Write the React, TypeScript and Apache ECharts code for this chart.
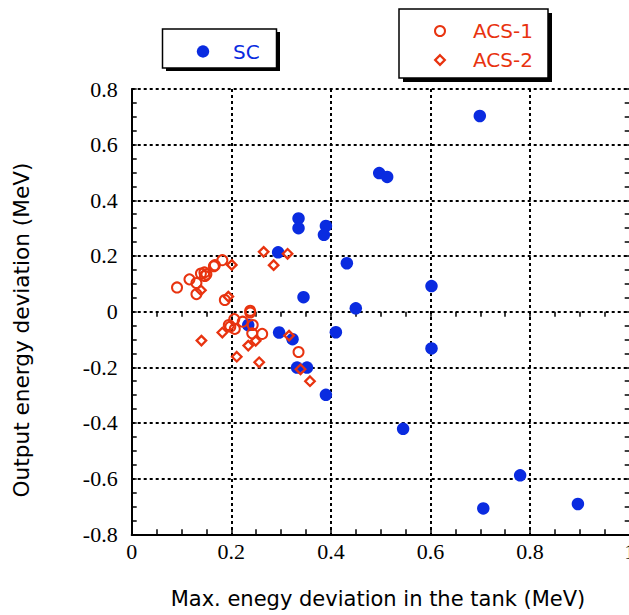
import React, { useEffect, useRef } from "react";
import * as echarts from "echarts";

const xTicks = [0, 0.2, 0.4, 0.6, 0.8, 1];
const yTicks = [-0.8, -0.6, -0.4, -0.2, 0, 0.2, 0.4, 0.6, 0.8];

const seriesNames = ["SC", "ACS-1", "ACS-2"];
const xTitle = "Max. enegy deviation in the tank (MeV)";
const yTitle = "Output energy deviation (MeV)";

const scData: number[][] = [
  [0.699, 0.703],
  [0.497, 0.498],
  [0.513, 0.484],
  [0.335, 0.335],
  [0.335, 0.3],
  [0.39, 0.308],
  [0.386, 0.276],
  [0.294, 0.213],
  [0.432, 0.174],
  [0.602, 0.092],
  [0.345, 0.052],
  [0.45, 0.012],
  [0.41, -0.074],
  [0.296, -0.075],
  [0.323, -0.099],
  [0.602, -0.132],
  [0.234, -0.048],
  [0.332, -0.201],
  [0.352, -0.201],
  [0.39, -0.299],
  [0.545, -0.421],
  [0.78, -0.588],
  [0.706, -0.707],
  [0.896, -0.691],
];

const acs1Data: number[][] = [
  [0.091, 0.087],
  [0.116, 0.116],
  [0.13, 0.103],
  [0.13, 0.063],
  [0.139, 0.137],
  [0.146, 0.141],
  [0.15, 0.134],
  [0.147, 0.128],
  [0.167, 0.167],
  [0.165, 0.163],
  [0.182, 0.185],
  [0.187, 0.042],
  [0.238, 0.003],
  [0.238, -0.003],
  [0.206, -0.027],
  [0.195, -0.048],
  [0.198, -0.054],
  [0.207, -0.062],
  [0.223, -0.036],
  [0.243, -0.048],
  [0.242, -0.078],
  [0.262, -0.08],
  [0.335, -0.145],
];

const acs2Data: number[][] = [
  [0.201, 0.168],
  [0.139, 0.077],
  [0.194, 0.054],
  [0.265, 0.215],
  [0.313, 0.208],
  [0.285, 0.167],
  [0.14, -0.104],
  [0.182, -0.075],
  [0.211, -0.162],
  [0.234, -0.122],
  [0.249, -0.105],
  [0.256, -0.182],
  [0.316, -0.086],
  [0.339, -0.207],
  [0.358, -0.25],
];

const BLUE = "#0a2be0";
const RED = "#e8330f";
const SERIF = "Liberation Serif";
const SANS = "DejaVu Sans";

export default function App() {
  const ref = useRef<HTMLDivElement>(null);

  useEffect(() => {
    if (!ref.current) return;
    const chart = echarts.init(ref.current, undefined, { renderer: "svg" });

    const gridLine = { show: true, lineStyle: { color: "#000", width: 2, type: [3, 3] as any } };
    const tick = () => ({ show: true, inside: true, length: 5, lineStyle: { color: "#000", width: 1.5 } });
    const minor = () => ({ show: true, splitNumber: 4, length: 5, lineStyle: { color: "#000", width: 1.5 } });

    const baseGraphic: any[] = [
      // axis titles
      {
        type: "text",
        x: 378,
        y: 599,
        style: { text: xTitle, fill: "#000", fontFamily: SANS, fontSize: 21, align: "center", verticalAlign: "middle" },
        z: 12,
      },
      {
        type: "text",
        x: 21,
        y: 330,
        rotation: Math.PI / 2,
        style: { text: yTitle, fill: "#000", fontFamily: SANS, fontSize: 21.6, align: "center", verticalAlign: "middle" },
        z: 12,
      },
      // SC legend box
      { type: "rect", shape: { x: 166, y: 32, width: 114, height: 39 }, style: { fill: "#000" }, z: 10 },
      { type: "rect", shape: { x: 162.5, y: 29, width: 114, height: 39 }, style: { fill: "#fff", stroke: "#000", lineWidth: 1.5 }, z: 11 },
      { type: "circle", shape: { cx: 203, cy: 51.5, r: 6.2 }, style: { fill: BLUE }, z: 12 },
      { type: "text", x: 233, y: 51.5, style: { text: seriesNames[0], fill: BLUE, fontFamily: SANS, fontSize: 20, verticalAlign: "middle" }, z: 12 },
      // ACS legend box
      { type: "rect", shape: { x: 403, y: 13, width: 149, height: 69 }, style: { fill: "#000" }, z: 10 },
      { type: "rect", shape: { x: 399, y: 9, width: 149, height: 69 }, style: { fill: "#fff", stroke: "#000", lineWidth: 1.5 }, z: 11 },
      { type: "circle", shape: { cx: 440, cy: 31, r: 5 }, style: { fill: "none", stroke: RED, lineWidth: 2 }, z: 12 },
      { type: "polygon", shape: { points: [[440, 55.2], [444.8, 60], [440, 64.8], [435.2, 60]] }, style: { fill: "none", stroke: RED, lineWidth: 2.3 }, z: 12 },
      { type: "text", x: 473, y: 31, style: { text: seriesNames[1], fill: RED, fontFamily: SANS, fontSize: 20, verticalAlign: "middle" }, z: 12 },
      { type: "text", x: 473, y: 60, style: { text: seriesNames[2], fill: RED, fontFamily: SANS, fontSize: 20, verticalAlign: "middle" }, z: 12 },
    ];

    const option: any = {
      animation: false,
      backgroundColor: "#fff",
      grid: {
        left: 131.7,
        top: 89,
        width: 498,
        height: 445.3,
        outerBoundsMode: "none",
      },
      xAxis: [
        {
          type: "value",
          min: xTicks[0],
          max: xTicks[xTicks.length - 1],
          interval: 0.2,
          position: "bottom",
          axisLine: { show: true, onZero: false, lineStyle: { color: "#000", width: 2 } },
          axisTick: tick(),
          minorTick: minor(),
          axisLabel: { show: false },
          splitLine: gridLine,
        },
        {
          type: "value",
          min: xTicks[0],
          max: xTicks[xTicks.length - 1],
          interval: 0.2,
          position: "top",
          axisLine: { show: false },
          axisTick: tick(),
          minorTick: minor(),
          axisLabel: { show: false },
          splitLine: { show: false },
        },
      ],
      yAxis: [
        {
          type: "value",
          min: yTicks[0],
          max: yTicks[yTicks.length - 1],
          interval: 0.2,
          position: "left",
          axisLine: { show: true, onZero: false, lineStyle: { color: "#000", width: 2 } },
          axisTick: tick(),
          minorTick: minor(),
          axisLabel: { show: false },
          splitLine: { ...gridLine },
        },
        {
          type: "value",
          min: yTicks[0],
          max: yTicks[yTicks.length - 1],
          interval: 0.2,
          position: "right",
          axisLine: { show: true, onZero: false, lineStyle: { color: "#000", width: 2 } },
          axisTick: tick(),
          minorTick: minor(),
          axisLabel: { show: false },
          splitLine: { show: false },
        },
      ],
      series: [
        {
          name: seriesNames[0],
          type: "scatter",
          data: scData,
          symbol: "circle",
          symbolSize: 12.5,
          itemStyle: { color: BLUE, opacity: 1 },
          z: 3,
        },
        {
          name: seriesNames[1],
          type: "scatter",
          data: acs1Data,
          symbol: "circle",
          symbolSize: 10,
          itemStyle: { color: "rgba(0,0,0,0)", borderColor: RED, borderWidth: 2, opacity: 1 },
          z: 4,
        },
        {
          name: seriesNames[2],
          type: "scatter",
          data: acs2Data,
          symbol: "diamond",
          symbolSize: 9.5,
          itemStyle: { color: "rgba(0,0,0,0)", borderColor: RED, borderWidth: 2.3, opacity: 1 },
          z: 5,
        },
      ],
      graphic: baseGraphic,
    };

    chart.setOption(option);

    // tick labels placed through the axes' own scales
    const leftPx = chart.convertToPixel({ xAxisIndex: 0 }, xTicks[0]) as number;
    const bottomPx = chart.convertToPixel({ yAxisIndex: 0 }, yTicks[0]) as number;
    const tickLabels: any[] = [];
    yTicks.forEach((v) => {
      const py = chart.convertToPixel({ yAxisIndex: 0 }, v) as number;
      tickLabels.push({
        type: "text",
        x: leftPx - 14,
        y: py,
        style: { text: String(v), fill: "#000", fontFamily: SERIF, fontSize: 22, align: "right", verticalAlign: "middle" },
        z: 12,
      });
    });
    xTicks.forEach((v) => {
      const px = chart.convertToPixel({ xAxisIndex: 0 }, v) as number;
      tickLabels.push({
        type: "text",
        x: px,
        y: bottomPx + 6,
        style: { text: String(v), fill: "#000", fontFamily: SERIF, fontSize: 22, align: "center", verticalAlign: "top" },
        z: 12,
      });
    });
    chart.setOption({ graphic: [...baseGraphic, ...tickLabels] });

    return () => chart.dispose();
  }, []);

  return (
    <div
      ref={ref}
      style={{ position: "fixed", left: 0, top: 0, width: 629, height: 615, background: "#fff" }}
    />
  );
}
